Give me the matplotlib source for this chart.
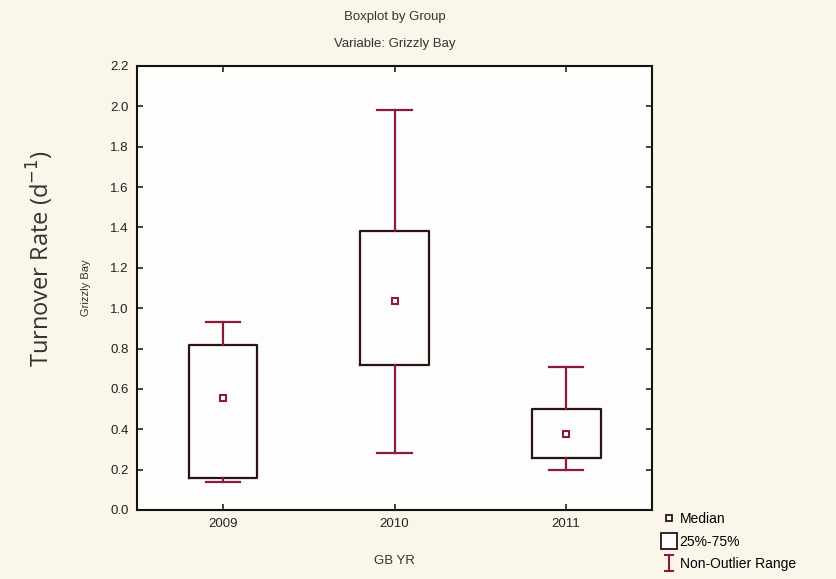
import numpy as np
import matplotlib.pyplot as plt
from matplotlib.lines import Line2D
from matplotlib.path import Path

years = ["2009", "2010", "2011"]
whisker_low = [0.14, 0.28, 0.20]
q1 = [0.16, 0.72, 0.26]
median = [0.555, 1.035, 0.375]
q3 = [0.82, 1.38, 0.50]
whisker_high = [0.93, 1.98, 0.71]
y_ticks = [0.0, 0.2, 0.4, 0.6, 0.8, 1.0, 1.2, 1.4, 1.6, 1.8, 2.0, 2.2]

maroon = "#8b1a3c"
dark = "#2a1216"

plt.rcParams["font.family"] = ["Liberation Sans", "DejaVu Sans"]

fig = plt.figure(figsize=(8.36, 5.79), dpi=100, facecolor="#fbf6ea")
ax = fig.add_axes([137 / 836, 1 - 510 / 579, 515 / 836, 444 / 579])
ax.set_facecolor("#fdfdfb")

stats = [dict(whislo=lo, q1=a, med=m, q3=b, whishi=hi, label=y)
         for lo, a, m, b, hi, y in zip(whisker_low, q1, median, q3, whisker_high, years)]
pos = np.arange(1, len(years) + 1)
ax.bxp(stats, positions=pos, widths=0.4, showfliers=False,
       boxprops=dict(color=dark, linewidth=1.6),
       whiskerprops=dict(color=maroon, linewidth=1.6),
       capprops=dict(color=maroon, linewidth=1.6),
       medianprops=dict(linestyle="none"))
ax.plot(pos, median, linestyle="none", marker="s", markersize=5,
        markerfacecolor="white", markeredgecolor=maroon, markeredgewidth=1.5)

ax.set_xlim(0.5, 3.5)
ax.set_ylim(0, 2.2)
ax.set_yticks(y_ticks)
ax.set_yticklabels([f"{v:.1f}" for v in y_ticks])
ax.tick_params(direction="in", top=True, right=True, length=4, width=1.2,
               labelsize=9.5, colors="#222222", pad=6)
for s in ax.spines.values():
    s.set_linewidth(1.5)
    s.set_color("#111111")

ax.set_ylabel("Grizzly Bay", fontsize=8, color="#333333", labelpad=14)
ax.set_xlabel("GB YR", fontsize=9.5, color="#333333", labelpad=18)

fig.text(395 / 836, 1 - 17 / 579, "Boxplot by Group", ha="center", va="center",
         fontsize=9.5, color="#333333")
fig.text(395 / 836, 1 - 44 / 579, "Variable: Grizzly Bay", ha="center", va="center",
         fontsize=9.5, color="#333333")
fig.text(40 / 836, 1 - 258 / 579, r"Turnover Rate (d$^{-1}$)", rotation=90,
         ha="center", va="center", fontsize=17, color="#333333",
         family=["Open Sans", "DejaVu Sans"])

ibar = Path([(-0.6, 1), (0.6, 1), (0, 1), (0, -1), (-0.6, -1), (0.6, -1)],
            [Path.MOVETO, Path.LINETO, Path.MOVETO, Path.LINETO, Path.MOVETO, Path.LINETO])
handles = [
    Line2D([], [], linestyle="none", marker="s", markersize=5,
           markerfacecolor="white", markeredgecolor=dark, markeredgewidth=1.3),
    Line2D([], [], linestyle="none", marker="s", markersize=12,
           markerfacecolor="white", markeredgecolor=dark, markeredgewidth=1.3),
    Line2D([], [], linestyle="none", marker=ibar, markersize=11,
           markeredgecolor=maroon, markeredgewidth=1.5),
]
fig.legend(handles, ["Median", "25%-75%", "Non-Outlier Range"],
           loc="upper left", bbox_to_anchor=(656 / 836, 1 - 505 / 579),
           frameon=False, fontsize=10, handlelength=0.8, handletextpad=0.4,
           labelspacing=0.62, borderpad=0)

fig.savefig("out.png", dpi=100, facecolor=fig.get_facecolor())
